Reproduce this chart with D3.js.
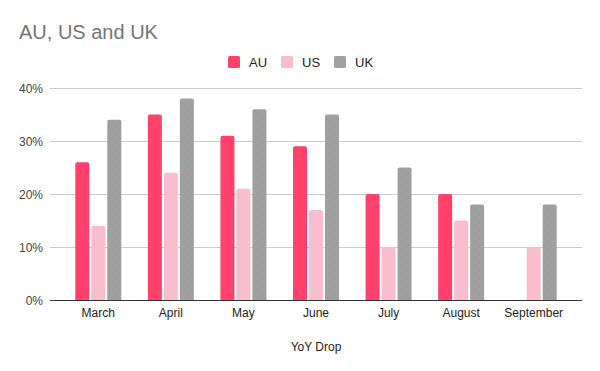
<!DOCTYPE html>
<html>
<head>
<meta charset="utf-8">
<script src="https://cdn.jsdelivr.net/npm/d3@7"></script>
<style>
  body { margin: 0; background: #fff; }
  svg { display: block; font-family: "Liberation Sans", Arial, sans-serif; }
</style>
</head>
<body>
<svg id="chart" width="600" height="371"></svg>
<script>
const months = ["March", "April", "May", "June", "July", "August", "September"];
const seriesNames = ["AU", "US", "UK"];
const au = [26, 35, 31, 29, 20, 20, null];
const us = [14, 24, 21, 17, 10, 15, 10];
const uk = [34, 38, 36, 35, 25, 18, 18];
const yTicks = [0, 10, 20, 30, 40];
const colors = { AU: "#ff416c", US: "#f8bece", UK: "#a0a0a0" };

const values = { AU: au, US: us, UK: uk };
const width = 600;
const height = 371;
const margin = { top: 88, right: 18, bottom: 71, left: 50 };

const svg = d3.select("#chart");

// faint dots on the grey series
const defs = svg.append("defs");
const pat = defs.append("pattern")
  .attr("id", "ukdots")
  .attr("patternUnits", "userSpaceOnUse")
  .attr("width", 8)
  .attr("height", 8);
pat.append("rect").attr("width", 8).attr("height", 8).attr("fill", colors.UK);
pat.append("rect").attr("x", 2).attr("y", 2).attr("width", 1).attr("height", 1).attr("fill", "#929292");
pat.append("rect").attr("x", 6).attr("y", 6).attr("width", 1).attr("height", 1).attr("fill", "#929292");

const x0 = d3.scaleBand()
  .domain(months)
  .range([margin.left + 12, width - margin.right - 12])
  .paddingInner(0)
  .paddingOuter(0);

const x1 = d3.scaleBand()
  .domain(seriesNames)
  .range([x0.bandwidth() / 2 - 23, x0.bandwidth() / 2 + 23])
  .paddingInner(0.125);

const y = d3.scaleLinear()
  .domain([0, 40])
  .range([height - margin.bottom, margin.top]);

// gridlines
svg.append("g")
  .selectAll("line")
  .data(yTicks.slice(1))
  .join("line")
  .attr("x1", margin.left)
  .attr("x2", width - margin.right)
  .attr("y1", (d) => y(d) + 0.5)
  .attr("y2", (d) => y(d) + 0.5)
  .attr("stroke", "#cccccc")
  .attr("stroke-width", 1);

// y tick labels
svg.append("g")
  .selectAll("text")
  .data(yTicks)
  .join("text")
  .attr("x", 43)
  .attr("y", (d) => y(d) + 4.5)
  .attr("text-anchor", "end")
  .attr("font-size", 12)
  .attr("fill", "#444")
  .text((d) => d + "%");

// bars
const r = 2;
function barPath(x, yTop, w, yBottom) {
  const h = yBottom - yTop;
  const rr = Math.min(r, h);
  return `M${x},${yBottom} V${yTop + rr} Q${x},${yTop} ${x + rr},${yTop} H${x + w - rr} Q${x + w},${yTop} ${x + w},${yTop + rr} V${yBottom} Z`;
}

const groups = svg.append("g")
  .selectAll("g")
  .data(months)
  .join("g")
  .attr("transform", (d) => `translate(${x0(d)},0)`);

groups.selectAll("path")
  .data((m, i) => seriesNames.map((s) => ({ s, v: values[s][i] })).filter((d) => d.v !== null))
  .join("path")
  .attr("d", (d) => barPath(x1(d.s), y(d.v), x1.bandwidth(), y(0)))
  .attr("fill", (d) => (d.s === "UK" ? "url(#ukdots)" : colors[d.s]));

// baseline
svg.append("line")
  .attr("x1", margin.left)
  .attr("x2", width - margin.right)
  .attr("y1", y(0) + 0.5)
  .attr("y2", y(0) + 0.5)
  .attr("stroke", "#333")
  .attr("stroke-width", 1);

// x axis labels
svg.append("g")
  .selectAll("text")
  .data(months)
  .join("text")
  .attr("x", (d) => x0(d) + x0.bandwidth() / 2)
  .attr("y", 317)
  .attr("text-anchor", "middle")
  .attr("font-size", 12)
  .attr("fill", "#222")
  .text((d) => d);

svg.append("text")
  .attr("x", 316)
  .attr("y", 351)
  .attr("text-anchor", "middle")
  .attr("font-size", 12)
  .attr("fill", "#222")
  .text("YoY Drop");

// title
svg.append("text")
  .attr("x", 19)
  .attr("y", 39)
  .attr("font-size", 20)
  .attr("fill", "#757575")
  .text("AU, US and UK");

// legend
const legendX = [228, 281, 334];
const legend = svg.append("g")
  .selectAll("g")
  .data(seriesNames)
  .join("g")
  .attr("transform", (d, i) => `translate(${legendX[i]},56)`);
legend.append("rect")
  .attr("width", 12)
  .attr("height", 12)
  .attr("rx", 1.5)
  .attr("fill", (d) => colors[d]);
legend.append("text")
  .attr("x", 21)
  .attr("y", 10.5)
  .attr("font-size", 13)
  .attr("fill", "#222")
  .text((d) => d);
</script>
</body>
</html>
